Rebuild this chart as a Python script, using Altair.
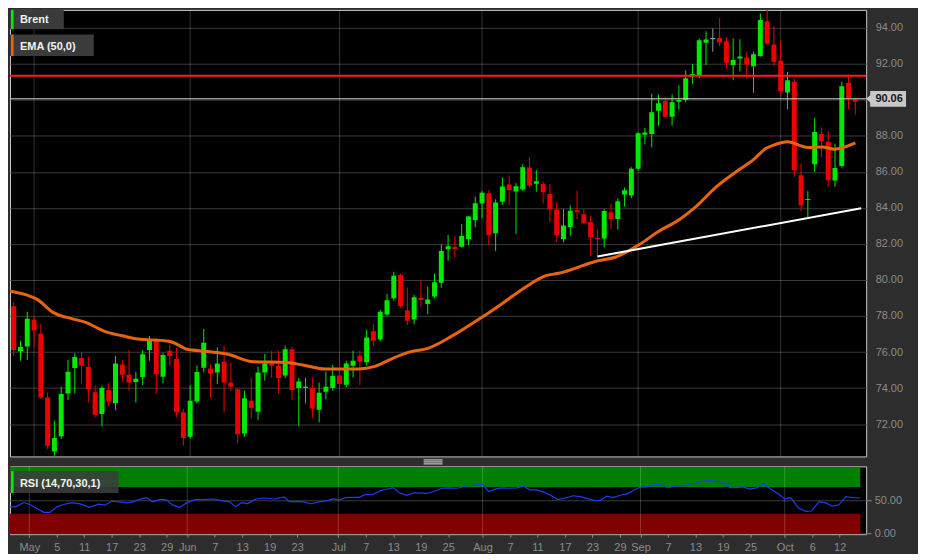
import numpy as np
import pandas as pd
import altair as alt

# ---------------- data ----------------
idx = list(range(126))
opens = [80.24, 78.54, 76.04, 76.31, 77.80, 77.02, 73.48, 70.48, 71.33, 73.70,
         75.11, 75.67, 75.17, 73.76, 72.56, 73.89, 73.15, 75.31, 74.74, 74.33,
         74.61, 76.11, 76.63, 74.63, 76.07, 75.61, 72.65, 71.30, 73.26, 75.13,
         75.09, 74.87, 75.46, 74.30, 73.94, 71.48, 73.30, 72.69, 74.87, 75.37,
         75.24, 74.69, 76.15, 74.00, 74.00, 74.00, 72.80, 73.80, 74.00, 74.70,
         74.19, 75.24, 75.80, 75.43, 77.15, 76.69, 78.09, 78.98, 80.28, 78.30,
         77.80, 79.02, 78.67, 79.09, 79.85, 81.70, 81.83, 81.85, 82.28, 83.31,
         84.24, 84.81, 82.59, 84.35, 85.30, 84.91, 85.02, 86.24, 85.35, 85.33,
         84.78, 83.92, 82.28, 82.94, 83.87, 83.65, 83.20, 82.35, 82.31, 83.76,
         83.39, 84.74, 84.69, 86.17, 88.06, 88.11, 89.39, 89.94, 89.07, 89.90,
         90.00, 91.31, 91.37, 93.17, 93.37, 93.44, 93.26, 91.93, 92.30, 92.35,
         91.87, 92.43, 94.37, 93.07, 92.17, 90.41, 91.00, 85.81, 84.44, 86.43,
         88.11, 87.67, 85.52, 86.33, 90.94, 90.02]
highs = [80.60, 78.76, 76.63, 78.24, 77.96, 77.56, 73.76, 72.19, 74.07, 75.57,
         75.94, 75.98, 75.76, 74.15, 74.13, 74.28, 75.78, 75.57, 76.11, 74.89,
         76.11, 76.89, 76.78, 75.96, 76.41, 76.22, 72.83, 74.15, 75.26, 77.28,
         75.33, 76.26, 76.35, 75.41, 74.00, 73.85, 74.56, 75.19, 75.89, 76.07,
         76.07, 76.35, 76.30, 74.56, 74.56, 74.59, 74.30, 74.91, 75.28, 75.98,
         75.52, 76.07, 76.07, 77.24, 77.56, 78.33, 79.22, 80.46, 80.35, 79.57,
         79.17, 80.00, 79.63, 80.35, 81.98, 82.50, 82.44, 83.11, 83.57, 84.63,
         84.94, 85.00, 84.48, 85.69, 85.80, 85.37, 86.43, 86.80, 86.11, 85.46,
         85.33, 84.33, 83.94, 84.13, 84.96, 83.94, 83.57, 82.83, 83.94, 84.22,
         84.54, 85.13, 86.26, 88.20, 88.44, 90.33, 90.30, 90.15, 90.30, 90.80,
         91.63, 92.00, 93.40, 93.81, 93.96, 94.56, 93.50, 93.41, 93.37, 92.67,
         92.67, 94.80, 95.30, 94.11, 93.31, 91.56, 91.19, 86.46, 84.94, 89.00,
         88.48, 88.26, 87.57, 91.00, 91.41, 90.07]
lows = [78.00, 75.80, 75.52, 75.56, 76.26, 73.39, 70.61, 70.24, 71.17, 73.33,
        73.70, 74.26, 73.20, 72.37, 71.87, 72.98, 72.78, 74.33, 73.85, 73.20,
        74.17, 75.52, 73.70, 74.26, 75.24, 72.37, 70.80, 71.20, 73.15, 74.87,
        73.48, 74.22, 72.65, 73.85, 70.93, 71.30, 72.33, 72.22, 74.41, 74.56,
        73.70, 74.54, 73.33, 71.87, 73.15, 72.33, 72.09, 73.37, 73.85, 73.89,
        74.04, 74.59, 74.17, 75.24, 76.35, 76.59, 77.98, 78.85, 78.43, 77.50,
        77.54, 78.52, 78.11, 78.98, 79.57, 81.06, 81.28, 81.80, 81.94, 82.93,
        83.43, 81.94, 81.61, 84.17, 84.17, 82.56, 84.94, 85.15, 84.91, 84.26,
        83.20, 82.10, 82.09, 82.46, 83.39, 83.11, 81.33, 81.26, 81.81, 82.83,
        82.80, 84.07, 84.54, 86.07, 87.52, 87.37, 88.57, 89.04, 88.57, 89.46,
        89.87, 90.89, 91.20, 91.93, 92.67, 92.98, 91.74, 91.09, 91.59, 91.19,
        90.39, 92.39, 93.04, 91.89, 90.17, 89.48, 85.72, 83.81, 83.50, 86.00,
        86.83, 85.17, 85.17, 86.24, 89.48, 89.19]
closes = [78.33, 76.11, 76.28, 77.85, 77.19, 73.48, 70.80, 71.22, 73.67, 74.91,
          75.72, 75.24, 73.93, 72.52, 74.00, 73.26, 75.37, 74.74, 74.31, 74.52,
          75.87, 76.65, 74.76, 75.83, 75.78, 72.65, 71.22, 73.30, 74.89, 76.52,
          74.80, 75.37, 74.31, 74.07, 71.44, 73.43, 72.89, 74.87, 75.37, 75.24,
          74.56, 76.15, 73.89, 74.37, 74.07, 72.87, 73.74, 74.07, 74.67, 74.22,
          75.37, 75.52, 75.48, 76.80, 76.63, 78.24, 78.87, 80.24, 78.56, 77.74,
          79.04, 78.89, 78.91, 79.87, 81.61, 81.87, 81.72, 82.44, 83.52, 84.26,
          84.85, 82.50, 84.30, 85.19, 85.00, 85.20, 86.26, 85.26, 85.48, 84.87,
          83.91, 82.48, 83.02, 83.85, 83.76, 83.15, 82.37, 82.26, 83.83, 83.39,
          84.37, 84.98, 86.17, 88.15, 88.19, 89.31, 89.81, 89.07, 89.87, 90.00,
          91.20, 91.43, 93.31, 93.35, 93.37, 93.19, 92.06, 92.22, 92.41, 91.96,
          92.54, 94.44, 93.13, 92.11, 90.48, 91.09, 86.09, 84.15, 84.50, 88.22,
          87.70, 85.54, 86.22, 90.76, 90.11, 89.89]

ema_idx = [0.0, 2.9, 4.4, 6.8, 9.8, 11.6, 14.5, 17.0, 19.3, 23.2, 24.3, 26.6, 29.1,
           32.4, 36.3, 40.7, 43.6, 46.9, 51.8, 54.2, 56.6, 59.5, 62.0, 65.8, 70.1,
           73.0, 76.5, 79.4, 81.3, 87.1, 89.6, 93.3, 95.8, 99.2, 101.6, 104.5,
           107.4, 109.9, 111.8, 113.2, 115.0, 118.0, 120.1, 121.9, 125.0]
ema_val = [79.41, 79.17, 78.94, 78.20, 77.83, 77.65, 77.13, 76.90, 76.72, 76.63, 76.56,
           76.15, 76.04, 75.89, 75.46, 75.43, 75.28, 75.06, 75.06, 75.20, 75.61,
           76.02, 76.20, 76.94, 77.96, 78.70, 79.63, 80.24, 80.37, 81.07, 81.26,
           82.00, 82.65, 83.39, 84.10, 85.17, 86.00, 86.65, 87.30, 87.52, 87.67,
           87.35, 87.39, 87.26, 87.61]

rsi_idx = [0.0, 0.8, 2.0, 3.2, 4.1, 5.1, 6.1, 7.0, 8.0, 9.0, 10.2, 11.4, 12.8, 14.1,
           15.0, 16.0, 17.0, 18.2, 19.1, 19.9, 21.1, 22.0, 23.0, 23.9, 24.9, 25.9,
           26.9, 28.1, 29.3, 30.8, 32.2, 33.2, 34.0, 34.9, 35.8, 37.0, 38.2, 39.7,
           41.1, 41.9, 43.1, 44.0, 45.0, 46.2, 47.4, 48.2, 49.1, 50.1, 51.1, 52.0,
           53.0, 54.0, 55.0, 55.9, 57.0, 57.9, 58.9, 60.0, 61.0, 61.9, 62.9, 64.1,
           65.1, 66.3, 67.5, 68.7, 69.9, 70.9, 71.9, 72.8, 73.8, 75.0, 76.0, 76.9,
           77.9, 78.9, 80.1, 81.0, 82.0, 83.2, 84.2, 85.4, 86.4, 87.1, 88.1, 89.0,
           90.3, 91.0, 92.0, 92.9, 93.9, 94.8, 95.8, 97.0, 98.0, 99.2, 100.2, 101.1,
           102.1, 103.1, 104.0, 105.0, 106.0, 106.9, 107.9, 108.9, 109.9, 110.9,
           111.9, 113.0, 114.0, 114.9, 116.0, 117.1, 117.9, 119.0, 120.0, 120.9,
           121.9, 122.9, 123.9, 125.0]
rsi_val = [45.1, 40.2, 40.2, 46.6, 43.7, 37.8, 32.0, 32.0, 40.2, 43.7, 46.6, 44.6, 39.3,
           44.1, 42.7, 48.5, 47.6, 46.1, 47.6, 51.0, 53.9, 47.6, 51.0, 51.0, 42.7,
           39.3, 46.1, 51.0, 51.0, 51.9, 49.0, 47.6, 40.2, 46.6, 45.1, 51.9, 53.4,
           51.9, 54.9, 48.0, 48.0, 47.6, 44.8, 47.6, 49.5, 52.0, 50.5, 53.9, 54.4,
           54.4, 58.8, 58.3, 64.1, 66.1, 69.0, 61.2, 57.3, 61.2, 60.7, 60.2, 63.2,
           68.0, 68.5, 68.0, 71.0, 72.9, 74.9, 63.2, 67.1, 68.5, 68.0, 68.5, 71.0,
           65.6, 65.6, 62.2, 56.3, 51.0, 53.4, 56.8, 55.4, 52.0, 49.5, 49.5, 56.3,
           53.9, 58.3, 59.3, 65.1, 69.5, 70.0, 72.9, 73.9, 68.5, 71.5, 71.5, 74.4,
           75.4, 78.8, 79.3, 78.8, 77.3, 69.0, 69.0, 70.0, 66.6, 68.5, 74.4, 67.1,
           60.2, 52.0, 53.9, 38.3, 33.4, 33.9, 48.0, 46.1, 41.2, 43.2, 55.4, 53.9,
           53.4]

tick_idx = [4, 8, 12, 16, 20, 24, 27, 31, 35, 39, 43, 49, 53, 57, 61, 65, 70, 74, 78,
            82, 86, 90, 93, 97, 101, 105, 109, 114, 118, 122]
tick_lbl = ["May", "5", "11", "17", "23", "29", "Jun", "7", "13", "19", "23", "Jul",
            "7", "13", "19", "25", "Aug", "7", "11", "17", "23", "29", "Sep", "7",
            "13", "19", "25", "Oct", "6", "12"]
month_idx = [4, 27, 49, 70, 93, 114]
price_ticks = [72, 74, 76, 78, 80, 82, 84, 86, 88, 90, 92, 94]
resistance = [91.34]
last_price = [90.06]
trend_idx = [87.0, 125.86]
trend_val = [81.30, 83.98]
rsi_band_lo = [70, 0]
rsi_band_hi = [100, 30]
rsi_band_end = 125
legend_names = ["Brent", "EMA (50,0)", "RSI (14,70,30,1)"]

# ---------------- styling ----------------
FONT = "Liberation Sans"
GREEN = "#00ea00"
RED = "#ee0000"
GRAY = "#9a9a9a"
ORANGE = "#e8650e"
BLUE = "#1f3cf0"
AXIS_TXT = "#8c8c8c"
BG = "#2d2d2d"
W, H_MAIN, H_RSI = 859, 448, 68

xs = alt.Scale(domain=[1.189, 125.86], nice=False, zero=False)
ys = alt.Scale(domain=[70.204, 94.996], nice=False, zero=False)
rs = alt.Scale(domain=[-0.75, 100.75], nice=False, zero=False)

o = np.array(opens); c = np.array(closes)
cdf = pd.DataFrame({"i": idx, "o": opens, "h": highs, "l": lows, "c": closes})
cdf["dir"] = np.where(c > o, "up", np.where(c < o, "down", "flat"))
lo = np.minimum(o, c)
cdf["lo"] = lo
cdf["hi"] = np.maximum(np.maximum(o, c), lo + 0.06)

ema_df = pd.DataFrame({"i": ema_idx, "v": ema_val})
rsi_df = pd.DataFrame({"i": rsi_idx, "v": rsi_val})
month_df = pd.DataFrame({"i": month_idx})
trend_df = pd.DataFrame({"i": trend_idx, "v": trend_val})
res_df = pd.DataFrame({"v": resistance})
last_df = pd.DataFrame({"v": last_price, "t": [f"{last_price[0]:.2f}"]})
band_df = pd.DataFrame({"i": [0, 0], "x1": [rsi_band_end] * 2, "v": rsi_band_lo,
                        "hi": rsi_band_hi, "col": ["#008000", "#800000"]})
one = pd.DataFrame({"k": [0]})

color_enc = alt.Color("dir:N", scale=alt.Scale(domain=["up", "down", "flat"],
                                               range=[GREEN, RED, GRAY]), legend=None)
x_noax = alt.X("i:Q", scale=xs, axis=None)


def vbox(x0, x1, y0, y1, color, opacity=1.0):
    return alt.Chart(one).mark_rect(color=color, opacity=opacity).encode(
        x=alt.value(x0), x2=alt.value(x1), y=alt.value(y0), y2=alt.value(y1))


def vtext(x, y, txt):
    return alt.Chart(one).mark_text(align="left", baseline="alphabetic", font=FONT,
                                    fontSize=11, fontWeight="bold", color="#f2f2f2").encode(
        x=alt.value(x), y=alt.value(y), text=alt.value(txt))


# ---------------- main price panel ----------------
y_axis_main = alt.Axis(orient="right", values=price_ticks, format=".2f", grid=True,
                       gridColor="#3a3a3a", gridWidth=1, domain=False, ticks=False,
                       labelPadding=9, labelColor=AXIS_TXT, labelFontSize=11,
                       labelFont=FONT, title=None)


def ym(field):
    return alt.Y(field, scale=ys, axis=y_axis_main)


sizer = vbox(0, 910, 0, 543, "#000000", 0.0)
vgrid_main = alt.Chart(month_df).mark_rule(color="#ffffff", opacity=0.2).encode(x=x_noax)
wicks = alt.Chart(cdf).mark_rule(strokeWidth=1, clip=True).encode(
    x=x_noax, y=ym("l:Q"), y2="h:Q", color=color_enc)
bodies = alt.Chart(cdf).mark_bar(width=5, clip=True).encode(
    x=x_noax, y=ym("lo:Q"), y2="hi:Q", color=color_enc)
ema = alt.Chart(ema_df).mark_line(color=ORANGE, strokeWidth=3, interpolate="monotone",
                                  clip=True).encode(x=x_noax, y=ym("v:Q"))
res_line = alt.Chart(res_df).mark_rule(color="#ff1c1c", strokeWidth=2).encode(y=ym("v:Q"))
last_line = alt.Chart(last_df).mark_rule(color="#d8d8d8", strokeWidth=1).encode(y=ym("v:Q"))
trend = alt.Chart(trend_df).mark_line(color="#ffffff", strokeWidth=2, clip=True).encode(
    x=x_noax, y=ym("v:Q"))
tag_shape = "M-1.22,0 L-1,-0.2 L-1,-0.44 L1,-0.44 L1,0.44 L-1,0.44 L-1,0.2 Z"
price_tag = alt.Chart(last_df).mark_point(shape=tag_shape, size=1296, filled=True,
                                          color="#c8c8c8", opacity=1, strokeWidth=0).encode(
    x=alt.value(881), y=ym("v:Q"))
price_txt = alt.Chart(last_df).mark_text(font=FONT, fontSize=11, fontWeight="bold",
                                         color="#151515", align="center",
                                         baseline="middle").encode(
    x=alt.value(882), y=ym("v:Q"), text="t:N")

leg = [
    vbox(0, 54, 0, 19.3, "#3b3b3b"), vbox(1, 3.6, 0, 19.3, "#00ee00"),
    vtext(10, 12.7, legend_names[0]),
    vbox(0, 84, 24.7, 46.3, "#3b3b3b"), vbox(1, 3.6, 24.7, 46.3, ORANGE),
    vtext(10, 40.5, legend_names[1]),
]

main = alt.layer(vgrid_main, wicks, bodies, ema, res_line, last_line, trend,
                 price_tag, price_txt, *leg, sizer).properties(width=W, height=H_MAIN)

# ---------------- RSI panel ----------------
label_expr = ("[" + ",".join(f"'{s}'" for s in tick_lbl) + "][indexof(["
              + ",".join(str(v) for v in tick_idx) + "], datum.value)]")
x_axis_rsi = alt.Axis(values=tick_idx, labelExpr=label_expr, tickSize=3,
                      tickColor=AXIS_TXT, domain=False, grid=False, labelColor=AXIS_TXT,
                      labelFontSize=11, labelFont=FONT, labelPadding=4,
                      labelOverlap=False, labelFlush=False, labelBound=False, title=None)
y_axis_rsi = alt.Axis(orient="right", values=[0, 50], format=".2f", grid=True,
                      gridColor="#3c3c3c", ticks=True, tickSize=5, tickColor=AXIS_TXT,
                      domain=False, labelPadding=3, labelColor=AXIS_TXT, labelFontSize=11,
                      labelFont=FONT, title=None)


def xr(field):
    return alt.X(field, scale=xs, axis=x_axis_rsi)


def yr(field):
    return alt.Y(field, scale=rs, axis=y_axis_rsi)


bands = alt.Chart(band_df).mark_rect(clip=True).encode(
    x=xr("i:Q"), x2="x1:Q", y=yr("v:Q"), y2="hi:Q",
    color=alt.Color("col:N", scale=None))
vgrid_rsi = alt.Chart(month_df).mark_rule(color="#ffffff", opacity=0.2).encode(x=xr("i:Q"))
rsi_line = alt.Chart(rsi_df).mark_line(color=BLUE, strokeWidth=1.2, clip=True).encode(
    x=xr("i:Q"), y=yr("v:Q"))
rsi_leg = [
    vbox(0, 109, 4.7, 26.7, "#3c3c3c", 0.88), vbox(1, 3.6, 4.7, 26.7, "#00ee00"),
    vtext(10, 20.7, legend_names[2]),
]
grip = [alt.Chart(one).mark_rule(color="#e6e6e6", strokeWidth=1).encode(
    x=alt.value(415), x2=alt.value(434), y=alt.value(yy)) for yy in (-6.5, -4.5, -2.5)]

rsi = alt.layer(bands, vgrid_rsi, rsi_line, *rsi_leg, *grip).properties(
    width=W, height=H_RSI)

chart = alt.vconcat(main, rsi, spacing=10, bounds="flush").properties(
    padding=0, background=BG
).configure_view(fill="#000000", stroke="#c8c8c8", strokeWidth=1)

chart.save("out.html", embed_options={"renderer": "svg", "actions": False})
